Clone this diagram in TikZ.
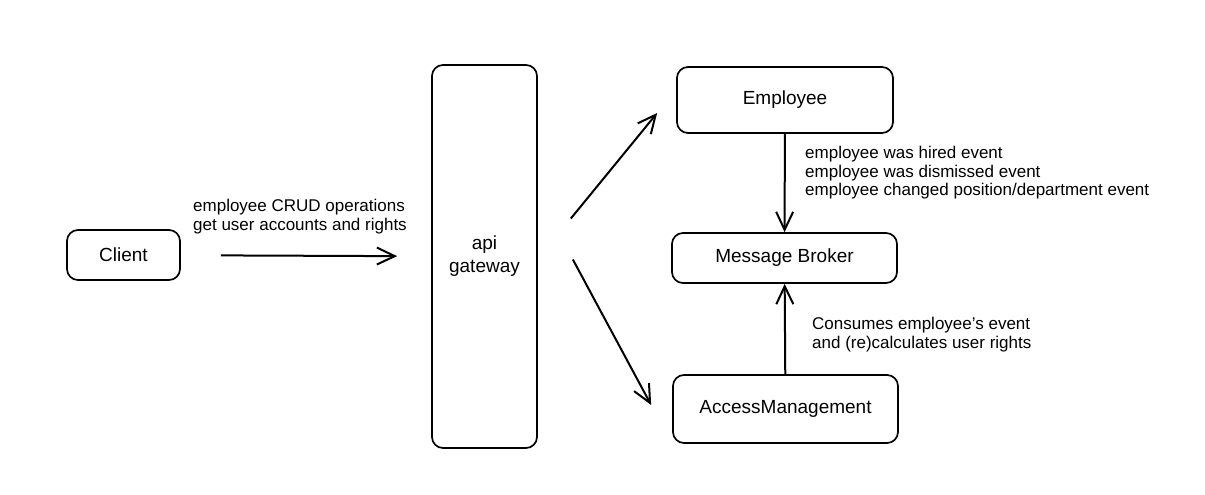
\documentclass[tikz,border=0pt]{standalone}
\usepackage{fontspec}
\setmainfont{Liberation Sans}
\usetikzlibrary{positioning,arrows.meta}

\begin{document}
\begin{tikzpicture}[x=1pt,y=-1pt,>={Straight Barb[length=18pt,width=17pt]},
  box/.style={draw,line width=1.7pt,rounded corners=11pt,inner sep=0pt,font=\fontsize{19}{23}\selectfont},
  lbl/.style={align=left,anchor=north west,inner sep=0pt,font=\fontsize{17}{18.5}\selectfont},
  flow/.style={->,line width=2pt}]
\useasboundingbox (0,0) rectangle (1205,495);
% left: client
\node[box,minimum width=113pt,minimum height=50pt] (client) at (123.5,255) {Client};
% middle: gateway
\node[box,align=center,minimum width=105pt,minimum height=383pt] (gw) at (484.5,256.5) {api\\gateway};
\draw[flow,shorten <=40pt,shorten >=34pt] (client) -- (gw);
\node[lbl] (crud) at (193,199) {employee CRUD operations\\get user accounts and rights};
% right: services
\node[box,minimum width=216pt,minimum height=66pt] (emp) at (785,100) {Employee};
\node[box,minimum width=225pt,minimum height=50pt] (broker) at (784.5,258) {Message Broker};
\node[box,minimum width=225pt,minimum height=68pt] (acc) at (785.5,409) {AccessManagement};
\draw[flow] ([shift={(33,-38)}]gw.east) -- ([shift={(-19,13)}]emp.west);
\draw[flow] ([shift={(35,3)}]gw.east) -- ([shift={(-21,-4)}]acc.west);
\draw[flow] (emp) -- (broker);
\draw[flow] (acc) -- (broker);
\node[lbl] (events) at (805,146) {employee was hired event\\employee was dismissed event\\employee changed position/department event};
\node[lbl] (consume) at (812,317) {Consumes employee's event\\and (re)calculates user rights};
\end{tikzpicture}
\end{document}
